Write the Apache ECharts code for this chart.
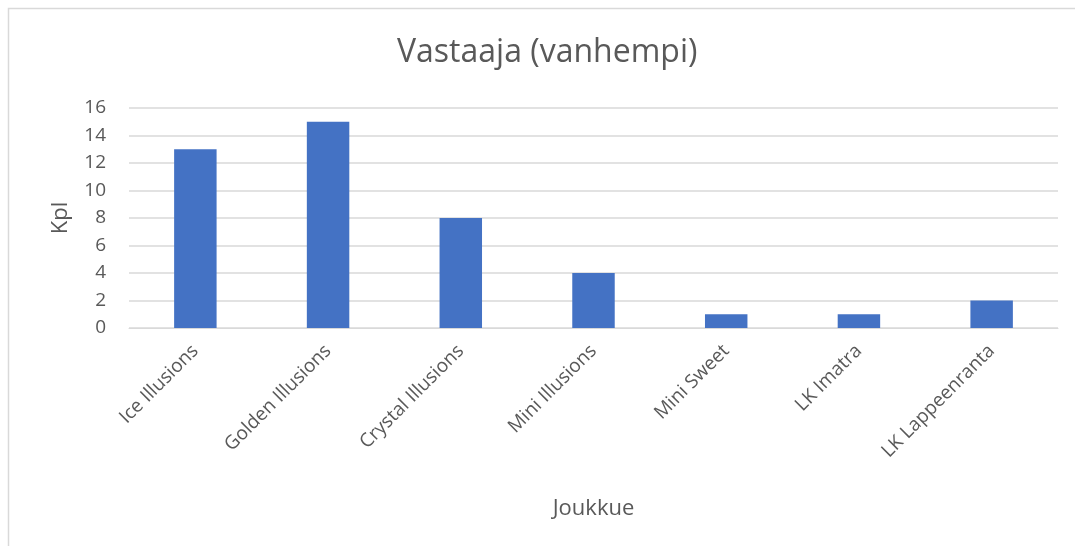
<!DOCTYPE html>
<html>
<head>
<meta charset="utf-8">
<script src="https://cdn.jsdelivr.net/npm/echarts@6/dist/echarts.min.js"></script>
<style>
  html, body { margin: 0; padding: 0; background: #fff; }
  #chart { width: 1075px; height: 546px; }
</style>
</head>
<body>
<div id="chart"></div>
<script>
// == Data ====================================================================
const teams = ['Ice Illusions', 'Golden Illusions', 'Crystal Illusions', 'Mini Illusions',
  'Mini Sweet', 'LK Imatra', 'LK Lappeenranta']
const counts = [13, 15, 8, 4, 1, 1, 2]
const yTicks = [0, 2, 4, 6, 8, 10, 12, 14, 16]

const textColor = '#595959'
const font = '"Open Sans", "Noto Sans", sans-serif'

const myChart = echarts.init(document.getElementById('chart'))
myChart.setOption({
  animation: false,
  backgroundColor: '#fff',
  textStyle: { fontFamily: font },
  // outer chart frame (left and top edges are visible in the picture)
  graphic: [{
    type: 'rect',
    shape: { x: 8.5, y: 8.5, width: 1100, height: 600 },
    style: { fill: 'none', stroke: '#d9d9d9', lineWidth: 1.5 },
    silent: true
  }],
  title: {
    text: 'Vastaaja (vanhempi)',
    left: 392,
    top: 32,
    textStyle: { color: textColor, fontSize: 32, fontWeight: 'normal', fontFamily: font }
  },
  grid: { left: 129, right: 17, top: 108, bottom: 218, containLabel: false },
  xAxis: {
    type: 'category',
    data: teams,
    name: 'Joukkue',
    nameLocation: 'middle',
    nameGap: 170,
    nameTextStyle: { color: textColor, fontSize: 22, fontFamily: font },
    axisLine: { lineStyle: { color: '#d9d9d9', width: 1 } },
    axisTick: { show: false },
    axisLabel: {
      rotate: 45,
      interval: 0,
      margin: 20,
      color: textColor,
      fontSize: 19,
      fontFamily: font
    }
  },
  yAxis: {
    type: 'value',
    min: yTicks[0],
    max: yTicks[yTicks.length - 1],
    interval: 2,
    name: 'Kpl',
    nameLocation: 'middle',
    nameGap: 57,
    nameRotate: 90,
    nameTextStyle: { color: textColor, fontSize: 22, fontFamily: font },
    axisLine: { show: false },
    axisTick: { show: false },
    axisLabel: { color: textColor, fontSize: 19, margin: 23, fontFamily: font },
    splitLine: { lineStyle: { color: '#d9d9d9', width: 1.5 } }
  },
  series: [{
    type: 'bar',
    data: counts,
    barWidth: '32%',
    itemStyle: { color: '#4472c4' }
  }]
})
</script>
</body>
</html>
